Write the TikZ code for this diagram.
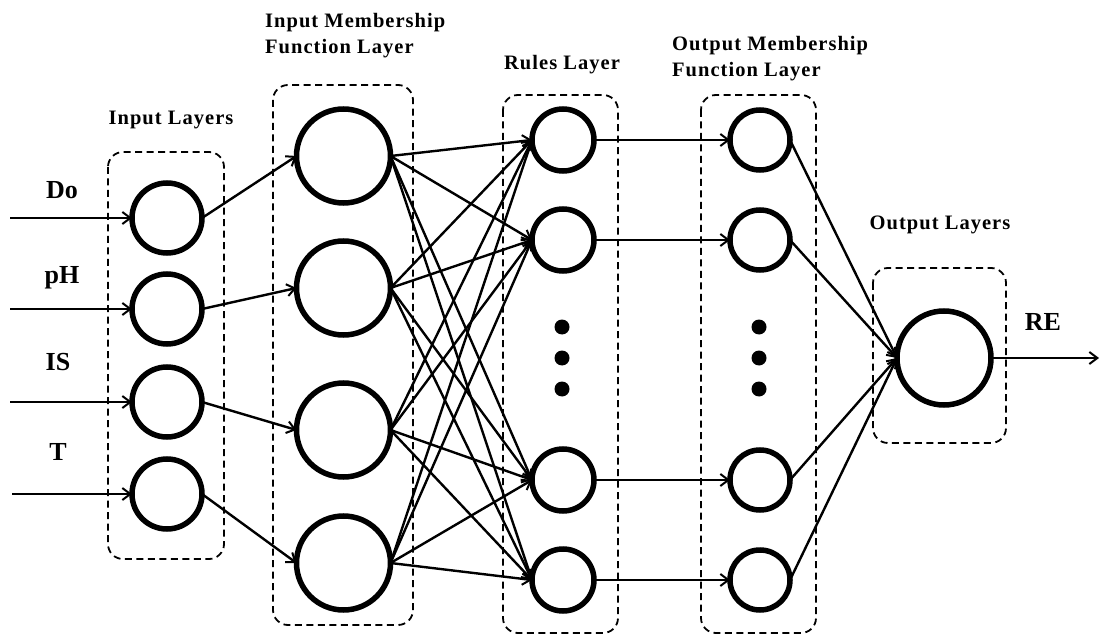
\documentclass[tikz,border=0pt]{standalone}
\usepackage{fontspec}
\setmainfont{Liberation Serif}
\newfontfamily\labfont{Liberation Serif}[LetterSpace=5]
\usetikzlibrary{arrows.meta}
\tikzset{
  neuron/.style={circle, draw=black, line width=5.5pt, inner sep=0pt, outer sep=0pt},
  inneuron/.style={neuron, minimum size=70pt},
  bigneuron/.style={neuron, minimum size=94pt},
  smallneuron/.style={neuron, minimum size=62pt},
  conn/.style={line width=2.4pt, -{Straight Barb[length=8pt,width=12pt,line width=2pt]}},
  layerbox/.style={draw=black, line width=1.8pt, dash pattern=on 7pt off 4.5pt, rounded corners=15pt},
  dotnode/.style={circle, fill=black, inner sep=0pt, minimum size=15pt},
  laytext/.style={font=\labfont\bfseries\fontsize{20.5}{26}\selectfont, inner sep=0pt},
  vartext/.style={font=\bfseries\fontsize{26}{30}\selectfont, inner sep=0pt}
}
\begin{document}
\begin{tikzpicture}[x=1pt,y=-1pt]
\useasboundingbox (0,0) rectangle (1100,636);
% boxes
\draw[layerbox] (108,152) rectangle (224,559);
\draw[layerbox] (273,85) rectangle (413,625);
\draw[layerbox] (503,95) rectangle (618,633);
\draw[layerbox] (701,95) rectangle (816,633);
\draw[layerbox] (873,268) rectangle (1006,443);
% labels
\node[laytext] (tin) at (171,120) {Input Layers};
\node[laytext, align=left, anchor=west] (tmf) at (265,36) {Input Membership\\Function Layer};
\node[laytext] (trl) at (562,65) {Rules Layer};
\node[laytext, align=left, anchor=west] (tomf) at (672,59) {Output Membership\\Function Layer};
\node[laytext] (tout) at (940,225) {Output Layers};
\node[vartext] (lDo) at (62,190) {Do};
\node[vartext] (lpH) at (62,278) {pH};
\node[vartext] (lIS) at (58,362) {IS};
\node[vartext] (lT) at (58,452) {T};
\node[vartext] (lRE) at (1043,322) {RE};
% input nodes
\node[inneuron] (i1) at (167,218) {};
\node[inneuron] (i2) at (167,309) {};
\node[inneuron] (i3) at (167,402) {};
\node[inneuron] (i4) at (167,494) {};
% MF nodes
\node[bigneuron] (m1) at (343.5,156) {};
\node[bigneuron] (m2) at (343.5,288) {};
\node[bigneuron] (m3) at (343.5,430) {};
\node[bigneuron] (m4) at (343.5,563) {};
% rule nodes
\node[smallneuron] (r1) at (563,140) {};
\node[smallneuron] (r2) at (563,240) {};
\node[smallneuron] (r3) at (563,480) {};
\node[smallneuron] (r4) at (563,580) {};
% output MF nodes
\node[smallneuron, minimum size=60pt] (o1) at (760,140) {};
\node[smallneuron, minimum size=60pt] (o2) at (760,240) {};
\node[smallneuron, minimum size=60pt] (o3) at (760,480) {};
\node[smallneuron, minimum size=60pt] (o4) at (760,580) {};
% output node
\node[bigneuron] (out) at (944,358) {};
% dots
\node[dotnode] (d1) at (562,327) {};
\node[dotnode] (d2) at (562,358) {};
\node[dotnode] (d3) at (562,389) {};
\node[dotnode] (e1) at (759,327) {};
\node[dotnode] (e2) at (759,358) {};
\node[dotnode] (e3) at (759,389) {};
% input arrows
\coordinate (s1) at (10,218);
\coordinate (s2) at (10,309);
\coordinate (s3) at (10,402);
\coordinate (s4) at (12,494);
\foreach \k in {1,2,3,4}{
  \draw[conn] (s\k) -- (i\k.west);
  \draw[conn] (i\k.east) -- (m\k.west);
}
\foreach \a in {1,2,3,4}{
  \foreach \b in {1,2,3,4}{
    \draw[conn] (m\a.east) -- (r\b.west);
  }
  \draw[conn] (r\a.east) -- (o\a.west);
  \draw[conn] (o\a.east) -- (out.west);
}
\coordinate (fin) at (1099,358);
\draw[conn] (out.east) -- (fin);
\end{tikzpicture}
\end{document}
